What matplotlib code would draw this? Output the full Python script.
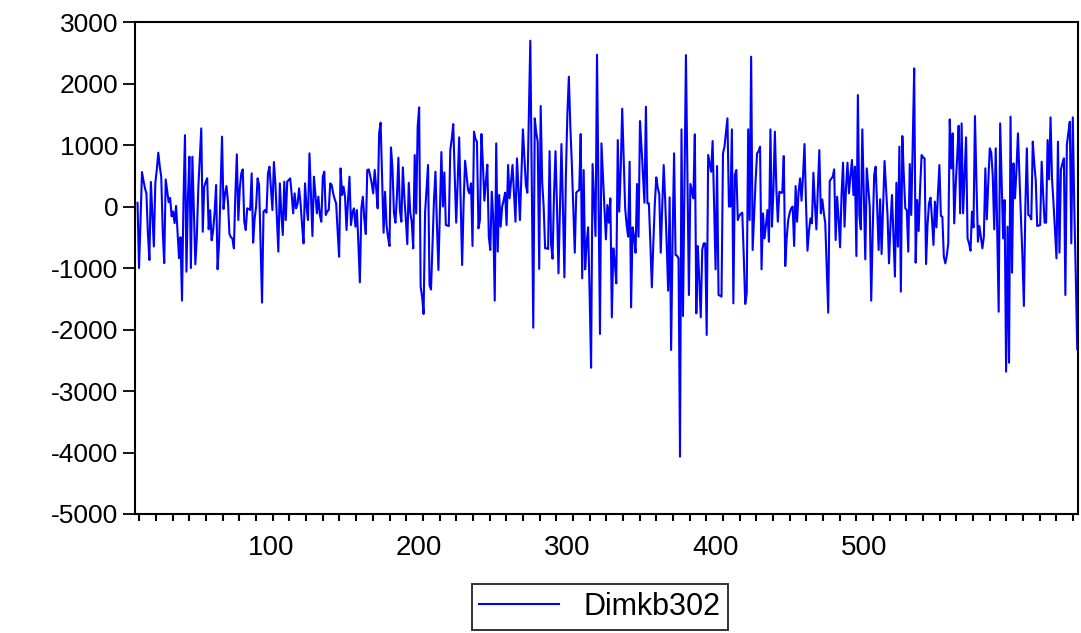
import numpy as np
import matplotlib
matplotlib.use("Agg")
import matplotlib.pyplot as plt
from matplotlib.ticker import MultipleLocator

# first observation shown on the axis
first_obs = 10

# Dimkb302 series, one value per observation
dimkb302 = [
    # 10-60
    60, -1000, -250, 560, 420, 300, 210, -440, -870, 400, -120, -650, 380,
    600, 875, 650, 480, -400, -920, 440, 250, 70, 140, -160, -80, -270, 10,
    -400, -840, -500, -1530, 100, 1160, -1060, 150, 810, -1000, 810, -50,
    -940, -490, 300, 800, 1270, -410, 320, 400, 460, -370, -60, -550,
    # 61-112
    -390, -100, 350, -1020, -600, 300, 1136, -40, 200, 333, 80, -447, -500,
    -520, -680, 200, 849, -220, 300, 539, 604, -247, -382, -30, -40, -57,
    539, -588, -200, 0, 458, 350, -600, -1563, -84, -57, -100, 539, 648,
    300, -57, 723, 377, -200, -734, 377, -100, -463, 404, -220, 404, 430,
    # 113-165
    458, 200, -111, 214, -30, 50, 295, 50, -300, -599, 377, 0, -220, 865,
    200, -480, 485, 200, -111, 160, -140, -247, 485, 566, -138, -80, -57,
    377, 350, 214, 120, 50, -400, -816, 620, 187, 322, 160, -382, 100, 485,
    -301, -100, -30, -328, -57, -600, -1233, -30, 160, -200, -447, 594,
    # 166-218
    604, 500, 377, 214, 594, 300, -30, 1190, 1363, 500, -425, 241, -301,
    -500, -642, 962, 620, -100, -263, 160, 794, -57, -247, 637, 160, -200,
    -612, 387, -100, -247, -680, 837, -111, 1298, 1612, -1304, -1466, -1748,
    -100, 300, 675, -1277, -1350, -600, 100, 566, -300, -1032, -100, 886, 0,
    555, -301,
    # 219-270
    -310, -317, 917, 1100, 1341, 500, -263, 400, 1125, 100, -952, 51, 745,
    500, 268, 214, 377, -642, 1217, 1100, 1054, -355, -220, 1179, 700, 95,
    400, 680, -490, -707, 241, -200, -1531, 1027, -734, 187, -328, 0, 100,
    225, -301, 675, 133, 400, 675, 200, -247, 783, 300, -220, 500, 1255,
    # 271-323
    800, 350, 225, 1500, 2696, 400, -1970, 1434, 1200, 1054, -1016, 1634,
    400, 0, -680, -680, -690, 900, -600, -849, 200, 900, 0, -1087, 0, 1016,
    0, -1152, 500, 1500, 2111, 1300, 702, 0, -751, 225, 250, 268, 1179,
    -1168, 594, -1022, -600, -339, -1400, -2621, 691, 100, -480, 2468, 200,
    -2073, 1027,
    # 324-377
    500, 0, -534, 24, -263, 133, -1802, -680, -900, -1250, 1081, -84, 600,
    1591, 800, -30, -300, -490, 729, -1640, -339, -490, -751, 366, -490,
    1390, 973, 500, 62, 1623, 51, 51, -600, -1315, -600, 40, 474, 300, 203,
    -751, 0, 675, 100, -600, -1369, 149, -2333, -500, 865, -789, -800, -843,
    -4067, 1255,
    # 378-428
    -1781, 300, 2463, 500, -1439, 366, 250, 133, 1174, -1737, -642, -1200,
    -1802, -700, -599, -599, -2089, 838, 700, 566, 1065, 0, -1022, 658,
    -1439, -1450, -1466, 865, 973, 1200, 1434, 0, 0, 1255, -1574, 512, 594,
    -220, -150, -120, -100, -800, -1585, -1412, 1255, -220, 2436, -707,
    -150, 420, 865,
    # 429-481
    900, 973, -1022, -111, -518, -300, -57, -572, 1255, -328, 241, 1217,
    300, -247, 241, 225, 225, 821, -968, -500, -220, -100, -30, 0, -642,
    333, -247, 241, 458, 95, 500, 1016, 51, -718, -400, -192, -274, 550, 51,
    -371, 300, 917, -111, 115, -100, -274, -1000, -1726, 415, 450, 485, 604,
    -545,
    # 482-534
    160, -200, -664, 200, 713, -328, 300, 713, 214, 500, 756, 187, 648,
    -805, 1813, -138, -371, 1255, 200, -859, 621, 300, 0, -1531, -400, 512,
    648, 0, -707, 117, -772, 0, 740, 300, -138, -924, -300, 187, -500,
    -1141, 387, -653, 973, -1385, 1146, 500, -30, -57, -734, 691, -138,
    1000, 2246,
    # 535-587
    -913, 106, -398, 300, 837, 800, 783, -935, -300, 51, 144, -200, -626,
    79, -339, 200, 675, -154, -165, -816, -924, -800, -599, 1417, 621, 1190,
    -274, 350, 800, 1314, -111, 1352, -111, 500, 1125, -518, -600, -718,
    -84, -339, 1471, 400, -572, -317, -500, -680, -490, 621, -209, 400, 946,
    875, 500,
    # 588-644
    -371, 946, -400, -1710, 1352, 400, -518, 106, -2686, -328, -2540, 1461,
    -1076, 702, 133, 600, 1190, 500, -165, -800, -1618, 0, 946, -138, -150,
    -209, 1054, 700, 431, -317, -310, -301, 729, 200, -263, -263, 1081, 442,
    1450, 442, 51, -400, -843, 1054, -751, 604, 700, 783, -1439, 1000, 1200,
    1379, -599, 1450, 0, -1100, -2322,
]

y_ticks = [3000, 2000, 1000, 0, -1000, -2000, -3000, -4000, -5000]
x_ticks = [100, 200, 300, 400, 500]

plt.rcParams['font.family'] = ['Liberation Sans', 'DejaVu Sans']
plt.rcParams['axes.unicode_minus'] = False

obs = np.arange(first_obs, first_obs + len(dimkb302))

fig = plt.figure(figsize=(10.81, 6.33), dpi=100)
ax = fig.add_axes([0.1249, 0.188, 0.8723, 0.7772])

line, = ax.plot(obs, dimkb302, color='#0000ff', linewidth=1.5, label='Dimkb302')

ax.set_xlim(8.3, 644.5)
ax.set_ylim(-5000, 3000)
ax.set_yticks(y_ticks)
ax.set_xticks(x_ticks)
ax.xaxis.set_minor_locator(MultipleLocator(11.25))

for side in ['left', 'right', 'top', 'bottom']:
    ax.spines[side].set_linewidth(1.5)
    ax.spines[side].set_color('black')

ax.tick_params(axis='y', which='major', direction='out', length=9, width=1.3,
               labelsize=19, pad=3, right=False)
# labels only on the major x positions, the small ticks come from the minor locator
ax.tick_params(axis='x', which='major', direction='out', length=0,
               labelsize=20, pad=15, top=False)
ax.tick_params(axis='x', which='minor', direction='out', length=5, width=1.5,
               top=False)

leg = fig.legend(handles=[line], loc='center', bbox_to_anchor=(0.5548, 0.041),
                 fontsize=22, frameon=True, fancybox=False, handlelength=2.6,
                 borderpad=0.25, borderaxespad=0, handletextpad=0.8)
leg.get_frame().set_edgecolor('black')
leg.get_frame().set_linewidth(1.4)

fig.savefig('out.png', dpi=100)
